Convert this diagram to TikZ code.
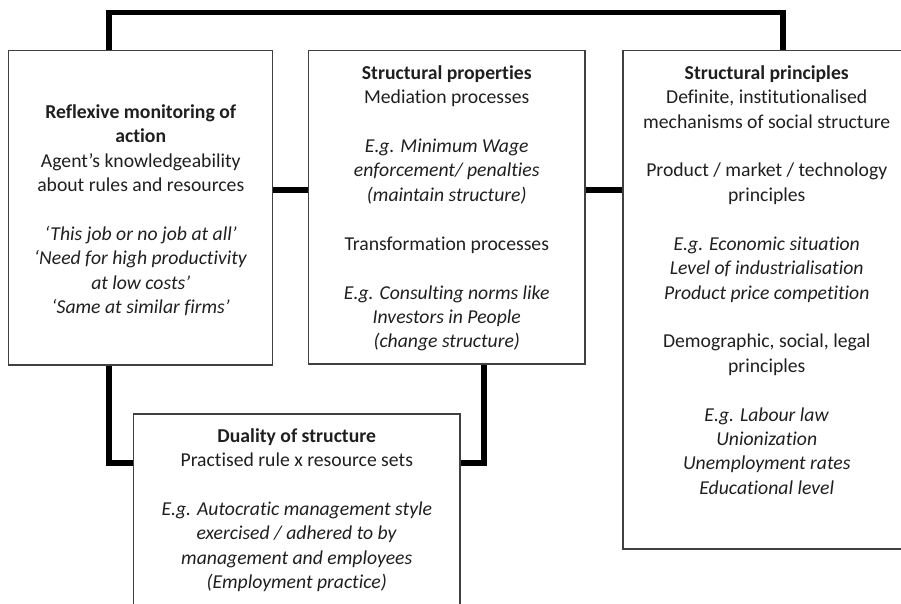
\documentclass[tikz,border=0pt]{standalone}
\usepackage{fontspec}
\setmainfont[Ligatures={TeX,NoCommon}]{Carlito}
\usetikzlibrary{positioning}

\begin{document}
\begin{tikzpicture}[
        box/.style={draw=black!75, line width=0.85pt, anchor=north west, inner sep=0pt},
        txt/.style={anchor=north, align=center, inner sep=0pt, text=black!88,
            font=\fontsize{11.2}{13.9}\selectfont},
        link/.style={line width=2.9pt, black}]
        \useasboundingbox (0,0) rectangle (18.02,-12.06);
        \clip (0,0) rectangle (18.02,-12.06);

        % Boxes
        \node[box, minimum width=5.28cm, minimum height=6.28cm] (reflex) at (0.16,-1.0) {};
        \node[box, minimum width=5.52cm, minimum height=6.26cm] (props) at (6.16,-1.0) {};
        \node[box, minimum width=5.76cm, minimum height=9.96cm] (princ) at (12.44,-1.0) {};
        \node[box, minimum width=6.52cm, minimum height=4.2cm] (dual) at (2.66,-8.26) {};

        % Texts in the boxes
        \node[txt, below=1.08cm of reflex.north] (reflex-txt) {%
            \textbf{Reflexive monitoring of}\\
            \textbf{action}\\
            Agent's knowledgeability\\
            about rules and resources\\[13.9pt]
            \textit{`This job or no job at all'}\\
            \textit{`Need for high productivity}\\
            \textit{at low costs'}\\
            \textit{`Same at similar firms'}};
        \node[txt, below=0.3cm of props.north] (props-txt) {%
            \textbf{Structural properties}\\
            Mediation processes\\[13.9pt]
            \textit{E.g. Minimum Wage}\\
            \textit{enforcement/ penalties}\\
            \textit{(maintain structure)}\\[13.9pt]
            Transformation processes\\[13.9pt]
            \textit{E.g. Consulting norms like}\\
            \textit{Investors in People}\\
            \textit{(change structure)}};
        \node[txt, below=0.3cm of princ.north] (princ-txt) {%
            \textbf{Structural principles}\\
            Definite, institutionalised\\
            mechanisms of social structure\\[13.9pt]
            Product / market / technology\\
            principles\\[13.9pt]
            \textit{E.g. Economic situation}\\
            \textit{Level of industrialisation}\\
            \textit{Product price competition}\\[13.9pt]
            Demographic, social, legal\\
            principles\\[13.9pt]
            \textit{E.g. Labour law}\\
            \textit{Unionization}\\
            \textit{Unemployment rates}\\
            \textit{Educational level}};
        \node[txt, below=0.3cm of dual.north] (dual-txt) {%
            \textbf{Duality of structure}\\
            Practised rule x resource sets\\[13.9pt]
            \textit{E.g. Autocratic management style}\\
            \textit{exercised / adhered to by}\\
            \textit{management and employees}\\
            \textit{(Employment practice)}};

        % Thick links
        \coordinate (midrow) at (0,-3.8);
        \coordinate (lowrow) at (0,-9.26);
        \draw[link] ([xshift=2.02cm]reflex.north west) -- ++(0,0.75) -| ([xshift=3.22cm]princ.north west);
        \draw[link] (reflex.east |- midrow) -- (props.west |- midrow);
        \draw[link] (props.east |- midrow) -- (princ.west |- midrow);
        \draw[link] ([xshift=2.02cm]reflex.south west) |- (dual.west |- lowrow);
        \draw[link] ([xshift=3.52cm]props.south west) |- (dual.east |- lowrow);
\end{tikzpicture}
\end{document}
